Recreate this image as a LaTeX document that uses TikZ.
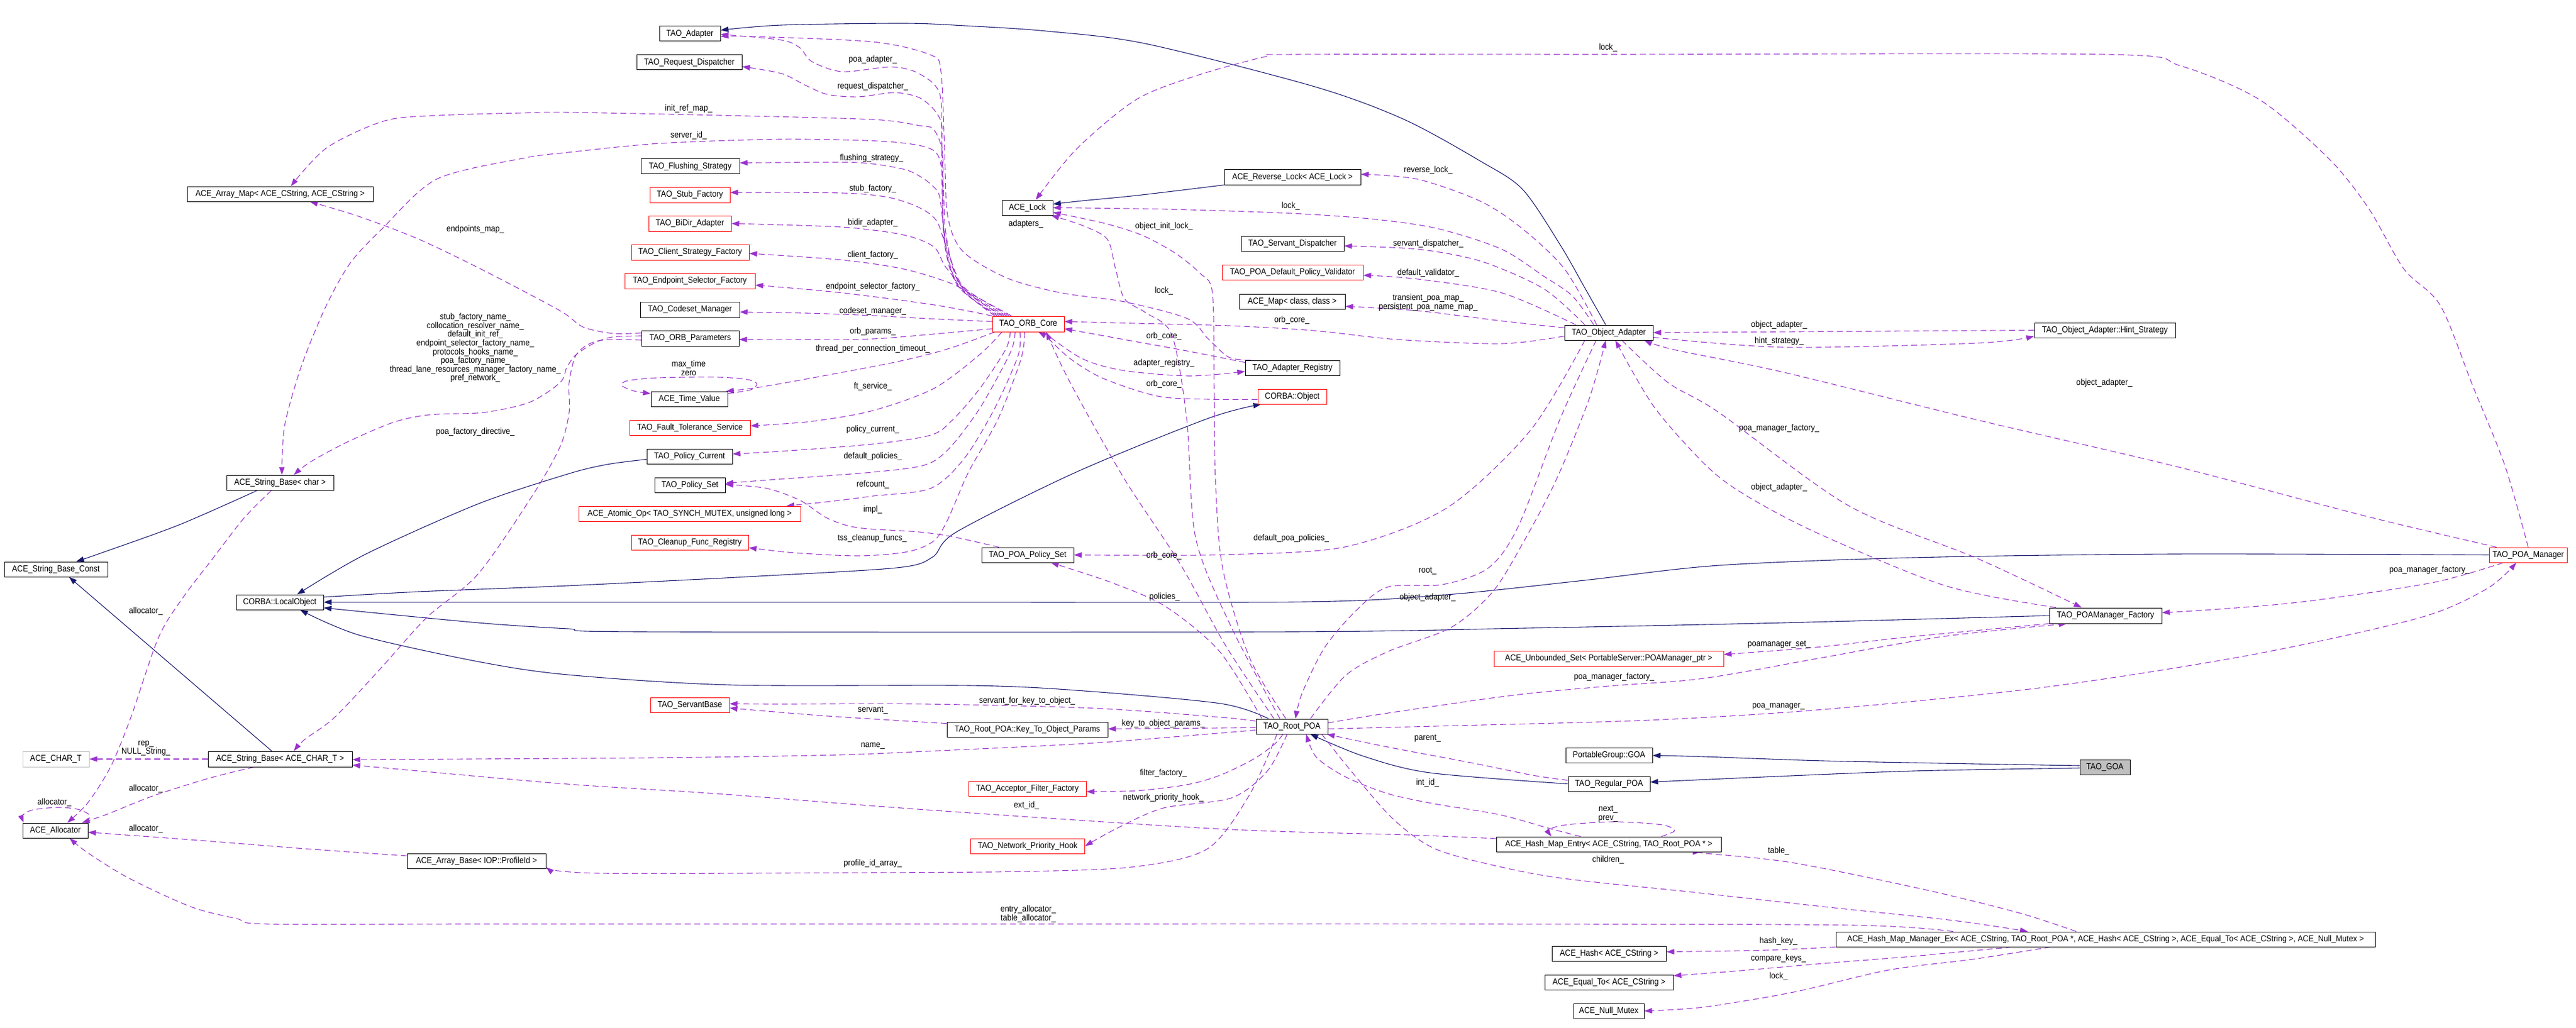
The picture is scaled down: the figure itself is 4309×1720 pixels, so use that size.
\documentclass[tikz,border=0pt]{standalone}
\usepackage{fontspec}
\setmainfont{Liberation Sans}[FakeStretch=0.9]
\usetikzlibrary{arrows.meta}
\definecolor{navy}{HTML}{191970}
\definecolor{purp}{HTML}{9A32CD}
\definecolor{boxred}{HTML}{FF0000}
\definecolor{boxgray}{HTML}{BFBFBF}
\newcommand\lblfont{\fontsize{14.5}{14.6}\selectfont}
\pgfdeclarelayer{bgl}
\pgfdeclarelayer{edges}
\pgfsetlayers{bgl,edges,main}
\tikzset{
  cls/.style={draw=black, fill=white, line width=1pt, inner sep=0pt, font=\lblfont},
  redcls/.style={cls, draw=boxred},
  graycls/.style={cls, draw=boxgray},
  goacls/.style={cls, fill=boxgray},
  lab/.style={font=\lblfont, inner sep=0pt, align=center},
  inh/.style={draw=navy, line width=1.1pt, -{Triangle[length=13pt,width=9pt]}},
  use/.style={draw=purp, line width=1.1pt, dash pattern=on 10pt off 6pt, -{Triangle[length=13pt,width=9pt]}},
}
\begin{document}
\begin{tikzpicture}[x=1pt,y=-1pt]
\begin{pgfonlayer}{bgl}
\fill[white] (0,0) rectangle (4309,1720);
\end{pgfonlayer}
\useasboundingbox (0,0) rectangle (4309,1720);
% ---------------- nodes ----------------
\node[cls, minimum width=179pt, minimum height=25pt] (ASBchar) at (468.5,807.5) {ACE\_String\_Base< char >};
\node[cls, minimum width=173pt, minimum height=25pt] (ASBConst) at (93.5,952.5) {ACE\_String\_Base\_Const};
\node[cls, minimum width=146pt, minimum height=25pt] (LocalObj) at (468,1007.5) {CORBA::LocalObject};
\node[graycls, minimum width=111pt, minimum height=26pt] (CHART) at (93.5,1270) {ACE\_CHAR\_T};
\node[cls, minimum width=241pt, minimum height=26pt] (ASBCT) at (468.5,1270) {ACE\_String\_Base< ACE\_CHAR\_T >};
\node[cls, minimum width=109pt, minimum height=25pt] (Alloc) at (92.5,1389.5) {ACE\_Allocator};
\node[cls, minimum width=232pt, minimum height=25pt] (ArrBase) at (797,1440.5) {ACE\_Array\_Base< IOP::ProfileId >};
\node[cls, minimum width=311pt, minimum height=25pt] (ArrMap) at (468.5,324.5) {ACE\_Array\_Map< ACE\_CString, ACE\_CString >};
\node[cls, minimum width=102pt, minimum height=25pt] (Adapter) at (1154,56.5) {TAO\_Adapter};
\node[cls, minimum width=176pt, minimum height=25pt] (ReqDisp) at (1153,104.5) {TAO\_Request\_Dispatcher};
\node[cls, minimum width=165pt, minimum height=25pt] (Flush) at (1154.5,278.5) {TAO\_Flushing\_Strategy};
\node[redcls, minimum width=134pt, minimum height=26pt] (StubF) at (1154,326) {TAO\_Stub\_Factory};
\node[redcls, minimum width=138pt, minimum height=26pt] (BiDir) at (1154,374) {TAO\_BiDir\_Adapter};
\node[redcls, minimum width=197pt, minimum height=26pt] (ClientSF) at (1154.5,422) {TAO\_Client\_Strategy\_Factory};
\node[redcls, minimum width=218pt, minimum height=26pt] (EndSel) at (1154,470) {TAO\_Endpoint\_Selector\_Factory};
\node[cls, minimum width=166pt, minimum height=26pt] (Codeset) at (1154,518) {TAO\_Codeset\_Manager};
\node[cls, minimum width=163pt, minimum height=26pt] (ORBParams) at (1154.5,566) {TAO\_ORB\_Parameters};
\node[cls, minimum width=128pt, minimum height=25pt] (TimeVal) at (1153,667.5) {ACE\_Time\_Value};
\node[redcls, minimum width=202pt, minimum height=25pt] (FTS) at (1154,715.5) {TAO\_Fault\_Tolerance\_Service};
\node[cls, minimum width=143pt, minimum height=25pt] (PolCur) at (1153.5,763.5) {TAO\_Policy\_Current};
\node[cls, minimum width=118pt, minimum height=25pt] (PolSet) at (1154,811.5) {TAO\_Policy\_Set};
\node[redcls, minimum width=371pt, minimum height=25pt] (Atomic) at (1153.5,859.5) {ACE\_Atomic\_Op< TAO\_SYNCH\_MUTEX, unsigned long >};
\node[redcls, minimum width=196pt, minimum height=25pt] (Cleanup) at (1154,907.5) {TAO\_Cleanup\_Func\_Registry};
\node[redcls, minimum width=120pt, minimum height=26pt] (ORBCore) at (1720,542) {TAO\_ORB\_Core};
\node[cls, minimum width=154pt, minimum height=25pt] (POAPolSet) at (1719,928.5) {TAO\_POA\_Policy\_Set};
\node[redcls, minimum width=132pt, minimum height=25pt] (ServantBase) at (1154,1179.5) {TAO\_ServantBase};
\node[cls, minimum width=269pt, minimum height=25pt] (KeyParams) at (1718.5,1220.5) {TAO\_Root\_POA::Key\_To\_Object\_Params};
\node[redcls, minimum width=197pt, minimum height=25pt] (AccFilt) at (1718.5,1319.5) {TAO\_Acceptor\_Filter\_Factory};
\node[redcls, minimum width=191pt, minimum height=25pt] (NetPri) at (1719,1415.5) {TAO\_Network\_Priority\_Hook};
\node[cls, minimum width=120pt, minimum height=25pt] (RootPOA) at (2161,1215.5) {TAO\_Root\_POA};
\node[cls, minimum width=85pt, minimum height=25pt] (ACELock) at (1718.5,347.5) {ACE\_Lock};
\node[cls, minimum width=228pt, minimum height=25pt] (RevLock) at (2162,296.5) {ACE\_Reverse\_Lock< ACE\_Lock >};
\node[cls, minimum width=172pt, minimum height=25pt] (ServDisp) at (2162,407.5) {TAO\_Servant\_Dispatcher};
\node[redcls, minimum width=236pt, minimum height=25pt] (DefVal) at (2162,455.5) {TAO\_POA\_Default\_Policy\_Validator};
\node[cls, minimum width=177pt, minimum height=25pt] (ACEMap) at (2161.5,504.5) {ACE\_Map< class, class >};
\node[cls, minimum width=158pt, minimum height=25pt] (AdReg) at (2162,615.5) {TAO\_Adapter\_Registry};
\node[redcls, minimum width=115pt, minimum height=25pt] (CObj) at (2161.5,663.5) {CORBA::Object};
\node[cls, minimum width=148pt, minimum height=25pt] (ObjAd) at (2691,556.5) {TAO\_Object\_Adapter};
\node[cls, minimum width=236pt, minimum height=25pt] (Hint) at (3521,552.5) {TAO\_Object\_Adapter::Hint\_Strategy};
\node[redcls, minimum width=130pt, minimum height=25pt] (POAMgr) at (4229,928.5) {TAO\_POA\_Manager};
\node[cls, minimum width=188pt, minimum height=26pt] (POAMF) at (3522,1030) {TAO\_POAManager\_Factory};
\node[redcls, minimum width=384pt, minimum height=26pt] (UnbSet) at (2691,1102) {ACE\_Unbounded\_Set< PortableServer::POAManager\_ptr >};
\node[cls, minimum width=145pt, minimum height=25pt] (PGGOA) at (2691.5,1263.5) {PortableGroup::GOA};
\node[cls, minimum width=137pt, minimum height=25pt] (RegPOA) at (2691.5,1311.5) {TAO\_Regular\_POA};
\node[goacls, minimum width=84pt, minimum height=25pt] (GOA) at (3521,1283.5) {TAO\_GOA};
\node[cls, minimum width=376pt, minimum height=25pt] (HME) at (2691,1412.5) {ACE\_Hash\_Map\_Entry< ACE\_CString, TAO\_Root\_POA * >};
\node[cls, minimum width=902pt, minimum height=25pt] (HMM) at (3522,1571.5) {ACE\_Hash\_Map\_Manager\_Ex< ACE\_CString, TAO\_Root\_POA *, ACE\_Hash< ACE\_CString >, ACE\_Equal\_To< ACE\_CString >, ACE\_Null\_Mutex >};
\node[cls, minimum width=191pt, minimum height=25pt] (Hash) at (2691.5,1595.5) {ACE\_Hash< ACE\_CString >};
\node[cls, minimum width=215pt, minimum height=25pt] (EqualTo) at (2691.5,1643.5) {ACE\_Equal\_To< ACE\_CString >};
\node[cls, minimum width=118pt, minimum height=25pt] (NullMutex) at (2691,1691.5) {ACE\_Null\_Mutex};
% ---------------- labels ----------------
\node[lab] (l01) at (1460,100) {poa\_adapter\_};
\node[lab] (l02) at (1460,145) {request\_dispatcher\_};
\node[lab] (l03) at (1152,182) {init\_ref\_map\_};
\node[lab] (l04) at (1152,227) {server\_id\_};
\node[lab] (l05) at (1458,265) {flushing\_strategy\_};
\node[lab] (l06) at (1460,316) {stub\_factory\_};
\node[lab] (l07) at (1460,373) {bidir\_adapter\_};
\node[lab] (l08) at (1460,427) {client\_factory\_};
\node[lab] (l09) at (1460,480) {endpoint\_selector\_factory\_};
\node[lab] (l10) at (1460,521) {codeset\_manager\_};
\node[lab] (l11) at (1460,555) {orb\_params\_};
\node[lab] (l12) at (1460,584) {thread\_per\_connection\_timeout\_};
\node[lab] (l13) at (1152,616) {max\_time\\zero};
\node[lab] (l14) at (1460,647) {ft\_service\_};
\node[lab] (l15) at (1460,719) {policy\_current\_};
\node[lab] (l16) at (1460,764) {default\_policies\_};
\node[lab] (l17) at (1460,811) {refcount\_};
\node[lab] (l18) at (1460,853) {impl\_};
\node[lab] (l19) at (1459,901) {tss\_cleanup\_funcs\_};
\node[lab] (l20) at (2690,80) {lock\_};
\node[lab] (l21) at (2389,285) {reverse\_lock\_};
\node[lab] (l22) at (2159,345) {lock\_};
\node[lab] (l23) at (1716,375) {adapters\_};
\node[lab] (l24) at (1947,379) {object\_init\_lock\_};
\node[lab] (l25) at (2389,408) {servant\_dispatcher\_};
\node[lab] (l26) at (2389,457) {default\_validator\_};
\node[lab] (l27) at (2389,506) {transient\_poa\_map\_\\persistent\_poa\_name\_map\_};
\node[lab] (l28) at (1947,487) {lock\_};
\node[lab] (l29) at (2161,536) {orb\_core\_};
\node[lab] (l30) at (1947,563) {orb\_core\_};
\node[lab] (l31) at (1947,608) {adapter\_registry\_};
\node[lab] (l32) at (1947,643) {orb\_core\_};
\node[lab] (l33) at (1947,930) {orb\_core\_};
\node[lab] (l34) at (2976,544) {object\_adapter\_};
\node[lab] (l35) at (2976,571) {hint\_strategy\_};
\node[lab] (l36) at (3520,641) {object\_adapter\_};
\node[lab] (l37) at (2976,717) {poa\_manager\_factory\_};
\node[lab] (l38) at (2976,816) {object\_adapter\_};
\node[lab] (l39) at (4064,954) {poa\_manager\_factory\_};
\node[lab] (l40) at (2976,1078) {poamanager\_set\_};
\node[lab] (l41) at (2160,901) {default\_poa\_policies\_};
\node[lab] (l42) at (1948,999) {policies\_};
\node[lab] (l43) at (2388,955) {root\_};
\node[lab] (l44) at (2388,1000) {object\_adapter\_};
\node[lab] (l45) at (2700,1133) {poa\_manager\_factory\_};
\node[lab] (l46) at (2975,1182) {poa\_manager\_};
\node[lab] (l47) at (1718,1173) {servant\_for\_key\_to\_object\_};
\node[lab] (l48) at (1460,1188) {servant\_};
\node[lab] (l49) at (1946,1211) {key\_to\_object\_params\_};
\node[lab] (l50) at (1460,1248) {name\_};
\node[lab] (l51) at (2388,1235) {parent\_};
\node[lab] (l52) at (1946,1294) {filter\_factory\_};
\node[lab] (l53) at (1946,1335) {network\_priority\_hook\_};
\node[lab] (l54) at (1717,1348) {ext\_id\_};
\node[lab] (l55) at (2388,1310) {int\_id\_};
\node[lab] (l56) at (2690,1362) {next\_\\prev\_};
\node[lab] (l57) at (2975,1424) {table\_};
\node[lab] (l58) at (2690,1439) {children\_};
\node[lab] (l59) at (2975,1575) {hash\_key\_};
\node[lab] (l60) at (2975,1604) {compare\_keys\_};
\node[lab] (l61) at (2975,1634) {lock\_};
\node[lab] (l62) at (1460,1445) {profile\_id\_array\_};
\node[lab] (l63) at (1720,1529) {entry\_allocator\_\\table\_allocator\_};
\node[lab] (l64) at (244,1023) {allocator\_};
\node[lab] (l65) at (244,1252) {rep\_\\NULL\_String\_};
\node[lab] (l66) at (244,1320) {allocator\_};
\node[lab] (l67) at (91,1343) {allocator\_};
\node[lab] (l68) at (244,1387) {allocator\_};
\node[lab] (l69) at (795,384) {endpoints\_map\_};
\node[lab] (l70) at (795,582) {stub\_factory\_name\_\\collocation\_resolver\_name\_\\default\_init\_ref\_\\endpoint\_selector\_factory\_name\_\\protocols\_hooks\_name\_\\poa\_factory\_name\_\\thread\_lane\_resources\_manager\_factory\_name\_\\pref\_network\_};
\node[lab] (l71) at (795,723) {poa\_factory\_directive\_};
% ---------------- edges ----------------
\begin{pgfonlayer}{edges}
% inheritance
\draw[inh] plot[smooth] coordinates {([xshift=-38pt]ASBchar.south) (300,878) (170,925) ([xshift=34pt]ASBConst.north)};
\draw[inh] ([xshift=-14pt]ASBCT.north) -- ([xshift=22pt]ASBConst.south);
\draw[inh] plot[smooth] coordinates {([yshift=-5pt]PolCur.west) (1016,777) (950,793) (800,843) (612,927) ([xshift=29pt]LocalObj.north)};
\draw[inh] plot[smooth] coordinates {([yshift=8.5pt]LocalObj.east) (700,990) (950,980) (1250,965) (1500,950) (1560,932) (1600,890) (1800,790) (2021,700) ([xshift=-52pt]CObj.south)};
\draw[inh] plot[smooth] coordinates {(POAMgr.west) (3634,927) (3200,933) (2875,946) (2650,971) (2420,995) (2181,1007) (1500,1007.5) (LocalObj.east)};
\draw[inh] plot[smooth] coordinates {(POAMF.west) (2984,1042) (2550,1051) (2160,1057) (1072,1057) (950,1052) (800,1042) ([yshift=-9.5pt]LocalObj.east)};
\draw[inh] plot[smooth] coordinates {([xshift=-39pt]RootPOA.north) (2041,1177) (1800,1155) (1622,1147) (1221,1146) (950,1129) (800,1107) (602,1063) ([xshift=34pt]LocalObj.south)};
\draw[inh] plot[smooth] coordinates {([xshift=-5pt]ObjAd.north) (2650,480) (2610,410) (2547,317) (2477,270) (2349,200) (2199,145) (1916,73) (1750,52) (1613,43) (1511,39) (1307,42) ([yshift=6pt]Adapter.east)};
\draw[inh] plot[smooth] coordinates {(RevLock.south west) (1902,327) (1810,336) ([yshift=6pt]ACELock.east)};
\draw[inh] plot[smooth] coordinates {(RegPOA.west) (2392,1293) (2280,1265) ([xshift=31pt]RootPOA.south)};
\draw[inh] plot[smooth] coordinates {([yshift=2.5pt]GOA.west) (3300,1278) (3050,1273) (2850,1266) ([yshift=-0.5pt]PGGOA.east)};
\draw[inh] plot[smooth] coordinates {([yshift=-1.5pt]GOA.west) (3200,1290) (2950,1300) ([yshift=3pt]RegPOA.east)};
% usage: left part
\draw[use] plot[smooth] coordinates {([xshift=-14.5pt]ASBchar.south) (408,867) (357,933) (306,1000) (265,1067) (219,1200) (185,1283) (147,1343) ([xshift=20pt]Alloc.north)};
\draw[use] plot[smooth] coordinates {([xshift=-44pt]ORBCore.north) (1605,475) (1582,390) (1577,300) (1562,252) (1485,237) (1307,233) (1103,240) (950,255) (874,265) (730,300) (639,383) (586,440) (545,513) (504,613) (476,713) ([xshift=3pt]ASBchar.north)};
\draw[use] plot[smooth] coordinates {([xshift=-56pt]ORBCore.north) (1600,472) (1578,380) (1577,260) (1562,217) (1537,210) (1460,200) (1205,193) (950,188) (874,189) (736,193) (644,202) (547,247) ([xshift=18pt]ArrMap.north)};
\draw[use] plot[smooth] coordinates {([yshift=9pt]ORBParams.west) (1026,558) (975,547) (937,520) (810,453) (700,400) (600,362) ([xshift=50pt]ArrMap.south)};
\draw[use] plot[smooth] coordinates {([yshift=4pt]ORBParams.west) (1024,564) (994,574) (963,594) (948,615) (937,640) (886,673) (810,690) (718,694) (657,707) (580,740) (519,773) ([xshift=23pt]ASBchar.north)};
\draw[use] plot[smooth] coordinates {([yshift=-3pt]ORBParams.west) (1001,570) (965,592) (952,640) (952,690) (937,747) (892,827) (800,960) (714,1033) (638,1117) (560,1200) (510,1237) ([xshift=23pt]ASBCT.north)};
\draw[use] (ASBCT.west) -- (CHART.east);
\draw[use] plot[smooth] coordinates {([xshift=-44pt]ASBCT.south) (350,1302) (255,1332) (180,1362) ([xshift=44.5pt]Alloc.north)};
\draw[use] plot[smooth] coordinates {([xshift=-3pt]Alloc.north east) (150,1364) (130,1354) (96,1351) (55,1355) (38,1364) ([xshift=2pt]Alloc.north west)};
\draw[use] plot[smooth] coordinates {([yshift=8.5pt]ArrBase.west) (510,1420) (319,1405) ([yshift=-3pt]Alloc.east)};
\draw[use] plot[smooth] coordinates {([xshift=-255pt]HMM.north) (3100,1548) (2500,1546) (1720,1546) (800,1546) (447,1546) (396,1537) (319,1517) (217,1470) (147,1427) ([xshift=24pt]Alloc.south)};
\draw[use] plot[smooth] coordinates {([xshift=-25pt]RootPOA.south) (2090,1330) (2020,1420) (1900,1450) (1720,1458) (1460,1460) (1000,1461) ([yshift=-10.5pt]ArrBase.east)};
% ORB core to column 2 (upper)
\draw[use] plot[smooth] coordinates {([xshift=-52pt]ORBCore.north) (1602,478) (1579,400) (1575,250) (1572,157) (1537,123) (1491,112) (1409,120) (1358,103) (1338,80) (1307,67) ([yshift=-1pt]Adapter.east)};
\draw[use] plot[smooth] coordinates {([xshift=-70pt]AdReg.north) (2056,598) (2021,567) (1986,533) (1881,505) (1775,490) (1684,465) (1610,420) (1585,360) (1580,250) (1574,120) (1557,92) (1460,70) (1256,61) ([yshift=-4.5pt]Adapter.east)};
\draw[use] plot[smooth] coordinates {([xshift=-48pt]ORBCore.north) (1604,480) (1580,400) (1576,250) (1575,207) (1562,183) (1537,163) (1496,155) (1435,162) (1384,158) (1348,143) (1307,123) ([yshift=-7pt]ReqDisp.east)};
\draw[use] plot[smooth] coordinates {([xshift=-40pt]ORBCore.north) (1610,482) (1582,400) (1572,330) (1562,313) (1542,297) (1511,283) (1435,272) (1300,272) ([yshift=6pt]Flush.east)};
\draw[use] plot[smooth] coordinates {([xshift=-36pt]ORBCore.north) (1614,484) (1585,420) (1567,370) (1537,347) (1485,330) (1409,323) ([yshift=4pt]StubF.east)};
\draw[use] plot[smooth] coordinates {([xshift=-32pt]ORBCore.north) (1620,487) (1582,447) (1562,413) (1511,393) (1409,380) (BiDir.east)};
\draw[use] plot[smooth] coordinates {([xshift=-28pt]ORBCore.north) (1630,495) (1588,473) (1511,450) (1409,435) ([yshift=-2pt]ClientSF.east)};
\draw[use] plot[smooth] coordinates {(ORBCore.north west) (1562,510) (1409,490) (1300,480) ([yshift=-7pt]EndSel.east)};
\draw[use] plot[smooth] coordinates {([yshift=4pt]ORBCore.west) (1550,533) (1460,528) (1350,524) ([yshift=-4pt]Codeset.east)};
\draw[use] plot[smooth] coordinates {([yshift=-8pt]ORBCore.west) (1550,560) (1460,567) (1350,568) ([yshift=-2pt]ORBParams.east)};
% ORB core to column 2 (lower)
\draw[use] plot[smooth] coordinates {([xshift=-56pt]ORBCore.south) (1588,583) (1511,603) (1409,623) (1276,647) ([xshift=-3pt]TimeVal.north east)};
\draw[use] plot[smooth] coordinates {([yshift=-4pt]TimeVal.north east) (1256,652) (1266,642) (1250,635) (1200,631) (1103,632) (1050,637) (1040,645) (1060,654) ([yshift=-4pt]TimeVal.north west)};
\draw[use] plot[smooth] coordinates {([xshift=-44pt]ORBCore.south) (1639,593) (1562,650) (1460,687) (1358,705) ([yshift=3pt]FTS.east)};
\draw[use] plot[smooth] coordinates {([xshift=-30pt]ORBCore.south) (1682,585) (1639,650) (1593,703) (1557,728) (1460,743) (1307,755) ([yshift=4pt]PolCur.east)};
\draw[use] plot[smooth] coordinates {([xshift=-22pt]ORBCore.south) (1690,590) (1639,683) (1588,750) (1547,778) (1460,790) (1300,802) ([yshift=3pt]PolSet.east)};
\draw[use] plot[smooth] coordinates {([xshift=-14pt]ORBCore.south) (1703,595) (1664,683) (1613,767) (1557,817) (1460,830) (1380,840) ([xshift=-24pt]Atomic.north east)};
\draw[use] plot[smooth] coordinates {([xshift=-6pt]ORBCore.south) (1708,600) (1670,700) (1620,790) (1585,870) (1562,905) (1519,923) (1438,930) (1330,925) ([yshift=-9pt]Cleanup.east)};
\draw[use] plot[smooth] coordinates {([xshift=-48pt]POAPolSet.north) (1593,898) (1537,890) (1435,883) (1384,867) (1338,837) (1282,817) ([yshift=1pt]PolSet.east)};
% ORB core / registry / object
\draw[use] plot[smooth] coordinates {([xshift=25pt]ORBCore.south) (1810,600) (1880,620) (1990,629) ([yshift=-6pt]AdReg.west)};
\draw[use] plot[smooth] coordinates {([yshift=9pt]AdReg.west) (1990,588) (1880,568) ([yshift=-8pt]ORBCore.east)};
\draw[use] plot[smooth] coordinates {([yshift=-5pt]CObj.west) (2021,668) (1937,663) (1845,633) (1790,600) (1754,567) ([xshift=17pt]ORBCore.south)};
\draw[use] plot[smooth] coordinates {([yshift=-6pt]ObjAd.west) (2512,575) (2337,568) (2196,553) (2056,545) (1900,541) ([yshift=4pt]ORBCore.east)};
\draw[use] plot[smooth] coordinates {([xshift=-10pt]RootPOA.north) (2090,1100) (2045,950) (2033,800) (2031,650) (2028,490) (2007,457) (1965,423) (1909,393) (1845,373) ([yshift=-8pt]ACELock.east)};
\draw[use] plot[smooth] coordinates {([xshift=-30pt]RootPOA.north) (2050,1080) (1975,945) (1880,800) (1790,640) ([xshift=30pt]ORBCore.south)};
\draw[use] plot[smooth] coordinates {([xshift=-20pt]RootPOA.north) (2060,1050) (2000,900) (1985,700) (1960,560) (1916,523) (1881,500) (1866,450) (1852,400) (1810,377) ([xshift=-3pt]ACELock.south east)};
\draw[use] plot[smooth] coordinates {([xshift=-25pt]ObjAd.north) (2630,495) (2582,462) (2512,417) (2407,383) (2301,367) (2161,357) (1951,350) (ACELock.east)};
\draw[use] plot[smooth] coordinates {(POAMgr.north) (4190,779) (4136,645) (4082,511) (4021,450) (3963,350) (3897,267) (3780,167) (3647,110) (3521,91) (2690,91) (2166,91) (2116,95) (2000,127) (1900,167) (1800,250) ([xshift=14pt]ACELock.north)};
% object adapter
\draw[use] plot[smooth] coordinates {([xshift=-20pt]ObjAd.north) (2617,450) (2547,383) (2477,337) (2372,300) ([yshift=5pt]RevLock.east)};
\draw[use] plot[smooth] coordinates {([xshift=-40pt]ObjAd.north) (2582,483) (2477,437) (2372,417) ([yshift=-4pt]ServDisp.east)};
\draw[use] plot[smooth] coordinates {([xshift=-55pt]ObjAd.north) (2512,490) (2372,467) ([yshift=-5pt]DefVal.east)};
\draw[use] plot[smooth] coordinates {([yshift=8pt]ObjAd.west) (2512,537) (2372,520) ([yshift=-8pt]ACEMap.east)};
\draw[use] (Hint.west) -- (ObjAd.east);
\draw[use] plot[smooth] coordinates {([yshift=-8pt]ObjAd.east) (2984,581) (3309,574) ([yshift=-10pt]Hint.west)};
\draw[use] plot[smooth] coordinates {([xshift=-53pt]POAMgr.north) (3959,864) (3634,779) (3309,703) (2984,623) (2800,585) ([xshift=-15pt]ObjAd.south east)};
\draw[use] plot[smooth] coordinates {([xshift=-83pt]POAMF.north) (3254,980) (3038,891) (2919,828) (2854,779) (2767,681) ([xshift=11pt]ObjAd.south)};
\draw[use] plot[smooth] coordinates {([xshift=22pt]ObjAd.south) (2790,640) (2875,690) (3092,846) (3309,935) ([xshift=-40pt]POAMF.north)};
\draw[use] plot[smooth] coordinates {([xshift=-42pt]POAMgr.south) (4068,975) (3851,1007) (3700,1020) ([yshift=5pt]POAMF.east)};
\draw[use] plot[smooth] coordinates {(POAMF.south west) (3200,1065) (3038,1083) ([yshift=7pt]UnbSet.east)};
\draw[use] plot[smooth] coordinates {([yshift=6pt]RootPOA.east) (2322,1193) (2533,1163) (2690,1148) (2850,1135) (3050,1100) (3250,1065) ([xshift=-65pt]POAMF.south)};
\draw[use] plot[smooth] coordinates {([yshift=-4pt]RootPOA.east) (2400,1215) (2758,1205) (3050,1187) (3419,1150) (3764,1096) (4046,1034) (4160,985) ([xshift=-20pt]POAMgr.south)};
\draw[use] plot[smooth] coordinates {([xshift=-21pt]ObjAd.south) (2610,700) (2540,880) (2490,950) (2413,978) (2322,982) (2270,1020) (2216,1083) (2178,1160) ([xshift=6pt]RootPOA.north)};
\draw[use] plot[smooth] coordinates {([xshift=31pt]RootPOA.north) (2251,1130) (2322,1090) (2427,1050) (2497,990) (2550,904) (2604,801) (2658,668) ([xshift=-5pt]ObjAd.south)};
\draw[use] plot[smooth] coordinates {([xshift=-40pt]ObjAd.south) (2560,720) (2420,850) (2250,915) (2050,928) (1880,929) (POAPolSet.east)};
\draw[use] plot[smooth] coordinates {([xshift=-50pt]RootPOA.north) (2040,1090) (1950,1015) (1860,975) ([xshift=39pt]POAPolSet.south)};
% root POA lower
\draw[use] plot[smooth] coordinates {([yshift=9pt]RootPOA.west) (2041,1200) (1831,1185) (1550,1178) (1300,1178) ([yshift=2pt]ServantBase.east)};
\draw[use] plot[smooth] coordinates {([yshift=10pt]KeyParams.west) (1384,1198) (1248,1187) ([yshift=-5pt]ServantBase.east)};
\draw[use] ([yshift=-2pt]RootPOA.west) -- ([yshift=1pt]KeyParams.east);
\draw[use] plot[smooth] coordinates {([yshift=-6pt]RootPOA.west) (1831,1243) (1550,1257) (1405,1263) (1178,1267) (950,1269) ([yshift=-1pt]ASBCT.east)};
\draw[use] plot[smooth] coordinates {([yshift=9.5pt]HME.west) (2357,1397) (2041,1387) (1550,1355) (1199,1328) (950,1312) (701,1290) ([yshift=-10pt]ASBCT.east)};
\draw[use] plot[smooth] coordinates {([xshift=-15pt]RootPOA.south) (2132,1245) (2097,1270) (2041,1297) (1985,1313) (1901,1323) ([yshift=-5pt]AccFilt.east)};
\draw[use] plot[smooth] coordinates {([xshift=-8pt]RootPOA.south) (2120,1290) (2060,1335) (1946,1352) (1870,1385) (NetPri.east)};
\draw[use] plot[smooth] coordinates {([xshift=-47pt]HME.north) (2595,1387) (2508,1363) (2400,1345) (2322,1328) (2251,1300) (2202,1267) ([xshift=24pt]RootPOA.south)};
\draw[use] plot[smooth] coordinates {([yshift=6pt]RegPOA.west) (2563,1297) (2465,1277) (2322,1250) ([xshift=-2pt]RootPOA.south east)};
\draw[use] plot[smooth] coordinates {([xshift=50pt]RootPOA.south) (2260,1290) (2330,1370) (2400,1420) (2508,1450) (2617,1470) (2834,1493) (3050,1517) (3267,1540) ([xshift=-130pt]HMM.north)};
\draw[use] plot[smooth] coordinates {([xshift=-49pt]HMM.north) (3376,1527) (3213,1487) (2996,1443) (2855,1428) ([xshift=-35pt]HME.south east)};
\draw[use] plot[smooth] coordinates {([xshift=88pt]HME.north) (2801,1390) (2780,1380) (2700,1375) (2620,1380) (2592,1388) ([xshift=-96pt]HME.north)};
\draw[use] plot[smooth] coordinates {(HMM.south west) (2950,1590) ([yshift=3pt]Hash.east)};
\draw[use] plot[smooth] coordinates {([xshift=-157pt]HMM.south) (3200,1600) (3050,1612) (2900,1625) ([yshift=11pt]EqualTo.east)};
\draw[use] plot[smooth] coordinates {([xshift=-92pt]HMM.south) (3300,1605) (3159,1623) (3000,1660) (2850,1685) (NullMutex.east)};
\end{pgfonlayer}
\end{tikzpicture}
\end{document}
